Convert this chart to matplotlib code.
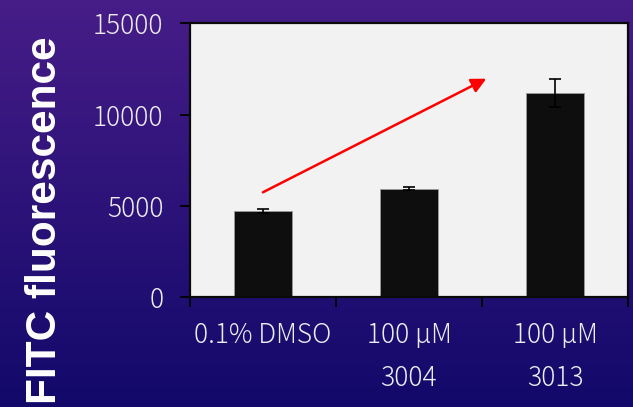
import matplotlib
matplotlib.use("Agg")
import matplotlib.pyplot as plt
import numpy as np

# FITC signal per treatment (mean and error)
categories = ["0.1% DMSO", "100 µM\n3004", "100 µM\n3013"]
means = [4730, 5930, 11170]
errors = [100, 80, 760]
y_ticks = [0, 5000, 10000, 15000]

# trend arrow, data coordinates
arrow_start = (0.0, 5740)
arrow_end = (1.53, 11960)

label_color = "#ededf0"
tick_font = ["Noto Sans CJK JP", "DejaVu Sans"]

fig = plt.figure(figsize=(6.33, 4.07), dpi=100)

# purple -> dark blue background
bg = fig.add_axes([0, 0, 1, 1], zorder=-10)
top = np.array([0x47, 0x1d, 0x88]) / 255
bottom = np.array([0x12, 0x09, 0x6a]) / 255
t = np.linspace(0, 1, 256)[:, None]
grad = (top[None, :] * (1 - t) + bottom[None, :] * t)[:, None, :]
bg.imshow(grad, aspect="auto", extent=[0, 1, 0, 1])
bg.set_axis_off()

ax = fig.add_axes([0.300, 0.270, 0.692, 0.673])
ax.set_facecolor("#f2f2f2")

x = np.arange(len(categories))
ax.bar(x, means, width=0.4, color="#0e0e0e", edgecolor="#9a9a9a",
       linewidth=0.6, zorder=2)
ax.errorbar(x, means, yerr=errors, fmt="none", ecolor="black",
            elinewidth=1.2, capsize=4.5, capthick=1.2, zorder=3)

ax.annotate("", xy=arrow_end, xytext=arrow_start,
            arrowprops=dict(arrowstyle="-|>", color="#ff0000", lw=1.8,
                            mutation_scale=22, shrinkA=0, shrinkB=0),
            zorder=4)

ax.set_xlim(-0.5, 2.5)
ax.set_ylim(0, 15000)

ax.set_yticks(y_ticks)
ax.set_yticklabels([str(v) for v in y_ticks])
ax.tick_params(axis="y", direction="out", length=7, width=1.3,
               pad=12, labelsize=19, labelcolor=label_color)

# boundary ticks between groups, labels centred under bars
ax.set_xticks(np.arange(-0.5, 3.0, 1.0))
ax.set_xticklabels([])
ax.tick_params(axis="x", which="major", direction="out", length=7, width=1.3)
ax.set_xticks(x, minor=True)
ax.set_xticklabels(categories, minor=True, linespacing=1.7)
ax.tick_params(axis="x", which="minor", length=0, pad=17, labelsize=19,
               labelcolor=label_color)

for lbl in ax.get_yticklabels() + ax.get_xticklabels(minor=True):
    lbl.set_family(tick_font)
    lbl.set_fontweight("light")

for side in ["left", "bottom", "top", "right"]:
    ax.spines[side].set_color("#0a0a0a")
    ax.spines[side].set_linewidth(1.6)

fig.text(0.071, 0.46, "FITC fluorescence", rotation=90, ha="center",
         va="center", fontsize=30.5, fontweight="bold", color="white",
         family="Liberation Sans")

fig.savefig("out.png", dpi=100)
